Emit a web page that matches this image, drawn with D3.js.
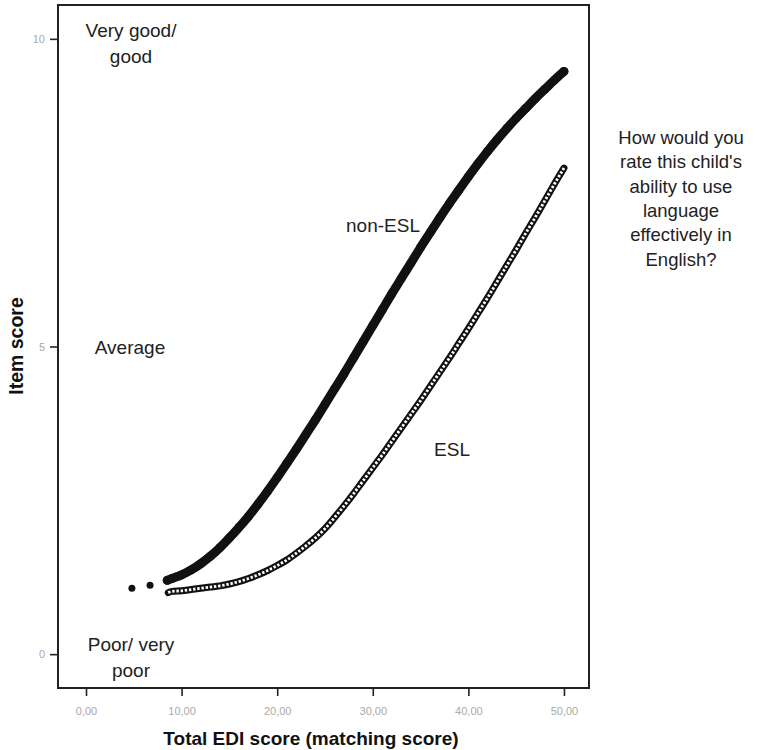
<!DOCTYPE html>
<html><head><meta charset="utf-8">
<script src="https://cdn.jsdelivr.net/npm/d3@7/dist/d3.min.js"></script>
<style>body{margin:0;background:#fff}svg{display:block}text{font-family:"Liberation Sans",Arial,sans-serif}</style>
</head><body><svg id="c" width="760" height="750"></svg>
<script>
// ---- data ----
const xTicks = [0, 10, 20, 30, 40, 50];
const yTicks = [0, 5, 10];
const nonEslIsolatedX = [4.8, 6.7];
const nonEslIsolatedY = [1.07, 1.12];
const nonEslX = [8.5, 9, 10, 11, 12, 13, 14, 15, 16, 17, 18, 19, 20, 21, 22, 23, 24, 25, 26, 27, 28, 29, 30, 31, 32, 33, 34, 35, 36, 37, 38, 39, 40, 41, 42, 43, 44, 45, 46, 47, 48, 49, 50];
const nonEslY = [1.20, 1.23, 1.29, 1.37, 1.47, 1.59, 1.73, 1.89, 2.06, 2.24, 2.44, 2.65, 2.87, 3.10, 3.33, 3.57, 3.81, 4.06, 4.31, 4.56, 4.82, 5.08, 5.34, 5.60, 5.86, 6.11, 6.36, 6.61, 6.85, 7.09, 7.32, 7.54, 7.76, 7.97, 8.17, 8.36, 8.54, 8.71, 8.87, 9.03, 9.18, 9.33, 9.47];
const eslX = [8.6, 9, 10, 11, 12, 13, 14, 15, 16, 17, 18, 19, 20, 21, 22, 23, 24, 25, 26, 27, 28, 29, 30, 31, 32, 33, 34, 35, 36, 37, 38, 39, 40, 41, 42, 43, 44, 45, 46, 47, 48, 49, 50];
const eslY = [1.00, 1.02, 1.03, 1.05, 1.07, 1.09, 1.11, 1.14, 1.18, 1.23, 1.29, 1.36, 1.44, 1.53, 1.64, 1.76, 1.89, 2.04, 2.22, 2.41, 2.61, 2.82, 3.03, 3.24, 3.46, 3.68, 3.90, 4.12, 4.35, 4.58, 4.81, 5.05, 5.29, 5.54, 5.79, 6.05, 6.31, 6.57, 6.84, 7.10, 7.37, 7.64, 7.90];
const xTitle = "Total EDI score (matching score)";
const yTitle = "Item score";
const levelLabels = [["Very good/", "good"], ["Average"], ["Poor/ very", "poor"]];
const questionLines = ["How would you", "rate this child's", "ability to use", "language", "effectively in", "English?"];

// ---- layout ----
const L = 58, R = 589, T = 5, B = 688;
const x = d3.scaleLinear().domain([-2.93, 52.62]).range([L, R]);
const y = d3.scaleLinear().domain([-0.55, 10.55]).range([B, T]);
const svg = d3.select("#c");

// axes
const gx = svg.append("g").attr("transform", `translate(0,${B})`)
  .call(d3.axisBottom(x).tickValues(xTicks).tickSize(8).tickPadding(11)
    .tickFormat(d => d.toFixed(2).replace(".", ",")));
const gy = svg.append("g").attr("transform", `translate(${L},0)`)
  .call(d3.axisLeft(y).tickValues(yTicks).tickSize(8).tickPadding(5).tickFormat(d3.format("d")));
[gx, gy].forEach(g => {
  g.select(".domain").remove();
  g.selectAll(".tick line").attr("stroke", "#222").attr("stroke-width", 1.6);
  g.selectAll(".tick text").attr("fill", "#aaa").style("font-size", "11px");
});

// frame
svg.append("rect").attr("x", L).attr("y", T).attr("width", R - L).attr("height", B - T)
  .attr("fill", "none").attr("stroke", "#222").attr("stroke-width", 2);

// series
const nonEsl = nonEslX.map((v, i) => [v, nonEslY[i]]);
const esl = eslX.map((v, i) => [v, eslY[i]]);
const line = d3.line().x(d => x(d[0])).y(d => y(d[1])).curve(d3.curveMonotoneX);

svg.append("path").attr("d", line(nonEsl)).attr("fill", "none").attr("stroke", "#111")
  .attr("stroke-width", 9).attr("stroke-linecap", "round").attr("stroke-linejoin", "round");
svg.selectAll("circle.n").data(nonEsl).join("circle").attr("class", "n")
  .attr("cx", d => x(d[0])).attr("cy", d => y(d[1])).attr("r", 4.4).attr("fill", "#111");
svg.selectAll("circle.iso").data(nonEslIsolatedX.map((v, i) => [v, nonEslIsolatedY[i]])).join("circle").attr("class", "iso")
  .attr("cx", d => x(d[0])).attr("cy", d => y(d[1])).attr("r", 3.5).attr("fill", "#111");

svg.append("path").attr("d", line(esl)).attr("fill", "none").attr("stroke", "#111")
  .attr("stroke-width", 7).attr("stroke-linecap", "round");
svg.append("path").attr("d", line(esl)).attr("fill", "none").attr("stroke", "#fff")
  .attr("stroke-width", 2.8).attr("stroke-dasharray", "2.4 1.8");

// titles
svg.append("text").attr("x", 311).attr("y", 745).attr("text-anchor", "middle")
  .style("font-size", "19px").style("font-weight", "bold").attr("fill", "#111").text(xTitle);
svg.append("text").attr("transform", "translate(23,346) rotate(-90)").attr("text-anchor", "middle")
  .style("font-size", "19.5px").style("font-weight", "bold").attr("fill", "#111").text(yTitle);

// level annotations
const levelPos = [[131, 37], [130, 354], [131, 651]];
levelLabels.forEach((lines, i) => {
  lines.forEach((s, j) => {
    svg.append("text").attr("x", levelPos[i][0]).attr("y", levelPos[i][1] + j * 26)
      .attr("text-anchor", "middle").style("font-size", "19px").attr("fill", "#222").text(s);
  });
});
svg.append("text").attr("x", 383).attr("y", 232).attr("text-anchor", "middle")
  .style("font-size", "19px").attr("fill", "#222").text("non-ESL");
svg.append("text").attr("x", 452).attr("y", 456).attr("text-anchor", "middle")
  .style("font-size", "19px").attr("fill", "#222").text("ESL");

questionLines.forEach((s, j) => {
  svg.append("text").attr("x", 681).attr("y", 144 + j * 24.3).attr("text-anchor", "middle")
    .style("font-size", "18.5px").attr("fill", "#222").text(s);
});
</script></body></html>
